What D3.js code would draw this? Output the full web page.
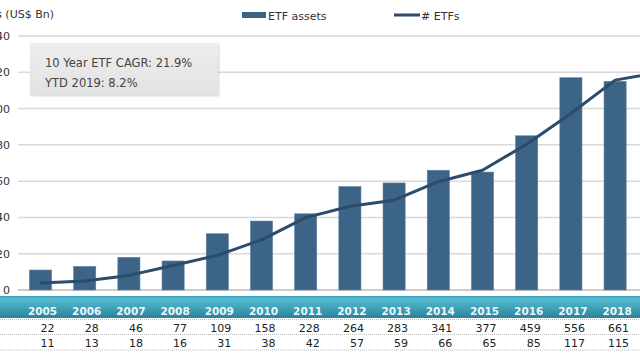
<!DOCTYPE html>
<html><head><meta charset="utf-8">
<script src="https://cdn.jsdelivr.net/npm/d3@7"></script>
<style>html,body{margin:0;padding:0;background:#fff;overflow:hidden}svg{display:block}</style>
</head><body>
<svg id="c" width="640" height="360"></svg>
<script>
const years = ["2005","2006","2007","2008","2009","2010","2011","2012","2013","2014","2015","2016","2017","2018","Jul-19"];
const etfCount = [22,28,46,77,109,158,228,264,283,341,377,459,556,661,685];
const etfAssets = [11,13,18,16,31,38,42,57,59,66,65,85,117,115,124];
const yTicks = [0,20,40,60,80,100,120,140];
const infoLines = ["10 Year ETF CAGR: 21.9%","YTD 2019: 8.2%"];

const svg = d3.select("#c");
const font = "DejaVu Sans";
const x = d3.scalePoint().domain(years).range([40.5, 40.5 + 44.2*(years.length-1)]);
const bw = x.step()*0.5;
const y = d3.scaleLinear().domain([0,140]).range([290,36]);
const y2 = d3.scaleLinear().domain([0,800]).range([290,36]);

const defs = svg.append("defs");
const g1 = defs.append("linearGradient").attr("id","band").attr("x1",0).attr("y1",0).attr("x2",0).attr("y2",1);
g1.append("stop").attr("offset","0%").attr("stop-color","#3c9fb8");
g1.append("stop").attr("offset","12%").attr("stop-color","#55bcd3");
g1.append("stop").attr("offset","100%").attr("stop-color","#2a8398");
const g2 = defs.append("linearGradient").attr("id","box").attr("x1",0).attr("y1",0).attr("x2",0).attr("y2",1);
g2.append("stop").attr("offset","0%").attr("stop-color","#eeeeee");
g2.append("stop").attr("offset","100%").attr("stop-color","#e2e2e2");
const flt = defs.append("filter").attr("id","sh").attr("x","-10%").attr("y","-20%").attr("width","130%").attr("height","150%");
flt.append("feDropShadow").attr("dx",1).attr("dy",1).attr("stdDeviation",1.2).attr("flood-color","#000").attr("flood-opacity",0.18);

// gridlines
svg.append("g").selectAll("line").data(yTicks).join("line")
  .attr("x1",18).attr("x2",640).attr("y1",d=>y(d)).attr("y2",d=>y(d))
  .attr("stroke",d=>d===0?"#bdbdbd":"#d9d9d9").attr("stroke-width",1.5);

// y labels
svg.append("g").selectAll("text").data(yTicks).join("text")
  .attr("x",10).attr("y",d=>y(d)+4).attr("text-anchor","end")
  .attr("font-family",font).attr("font-size",11).attr("fill","#333").text(d=>d);

// axis title
svg.append("text").attr("x",54).attr("y",18).attr("text-anchor","end")
  .attr("font-family",font).attr("font-size",11).attr("fill","#333").text("ETF Assets (US$ Bn)");

// info box
svg.append("rect").attr("x",30).attr("y",43).attr("width",188).attr("height",52)
  .attr("fill","url(#box)").attr("filter","url(#sh)");
svg.append("g").selectAll("text").data(infoLines).join("text")
  .attr("x",45).attr("y",(d,i)=>67+i*19.5)
  .attr("font-family",font).attr("font-size",11.5).attr("fill","#444").text(d=>d);

// bars
svg.append("g").selectAll("rect").data(etfAssets).join("rect")
  .attr("x",(d,i)=>x(years[i])-bw/2).attr("width",bw)
  .attr("y",d=>y(d)).attr("height",d=>y(0)-y(d))
  .attr("fill","#3b6486").attr("stroke","#5a7f9e").attr("stroke-width",0.6);

// line
const line = d3.line().x((d,i)=>x(years[i])).y(d=>y2(d));
svg.append("path").datum(etfCount).attr("d",line)
  .attr("fill","none").attr("stroke","#2b4c6c").attr("stroke-width",3).attr("stroke-linejoin","round");

// legend
svg.append("rect").attr("x",242).attr("y",12).attr("width",24).attr("height",6).attr("fill","#3b6486");
svg.append("text").attr("x",268).attr("y",19.5).attr("font-family",font).attr("font-size",11).attr("fill","#333").text("ETF assets");
svg.append("line").attr("x1",394).attr("x2",420).attr("y1",15).attr("y2",15).attr("stroke","#2b4c6c").attr("stroke-width",3);
svg.append("text").attr("x",421).attr("y",19.5).attr("font-family",font).attr("font-size",11).attr("fill","#333").text("# ETFs");

// table band
svg.append("rect").attr("x",0).attr("y",296).attr("width",640).attr("height",22).attr("fill","url(#band)");
svg.append("g").selectAll("text").data(years).join("text")
  .attr("x",d=>x(d)+2).attr("y",314.5).attr("text-anchor","middle")
  .attr("font-family",font).attr("font-size",10.5).attr("font-weight","bold").attr("fill","#eaf6fa").text(d=>d);

// dotted separators
svg.append("g").selectAll("line").data([319.5,334.5,350]).join("line")
  .attr("x1",0).attr("x2",640).attr("y1",d=>d).attr("y2",d=>d)
  .attr("stroke","#bbb").attr("stroke-width",1).attr("stroke-dasharray","1,1");

// table rows
[etfCount, etfAssets].forEach((row,r)=>{
  svg.append("g").selectAll("text").data(row).join("text")
    .attr("x",(d,i)=>x(years[i])+14).attr("y",331.5+r*15).attr("text-anchor","end")
    .attr("font-family",font).attr("font-size",11).attr("fill","#222").text(d=>d);
});
</script>
</body></html>
